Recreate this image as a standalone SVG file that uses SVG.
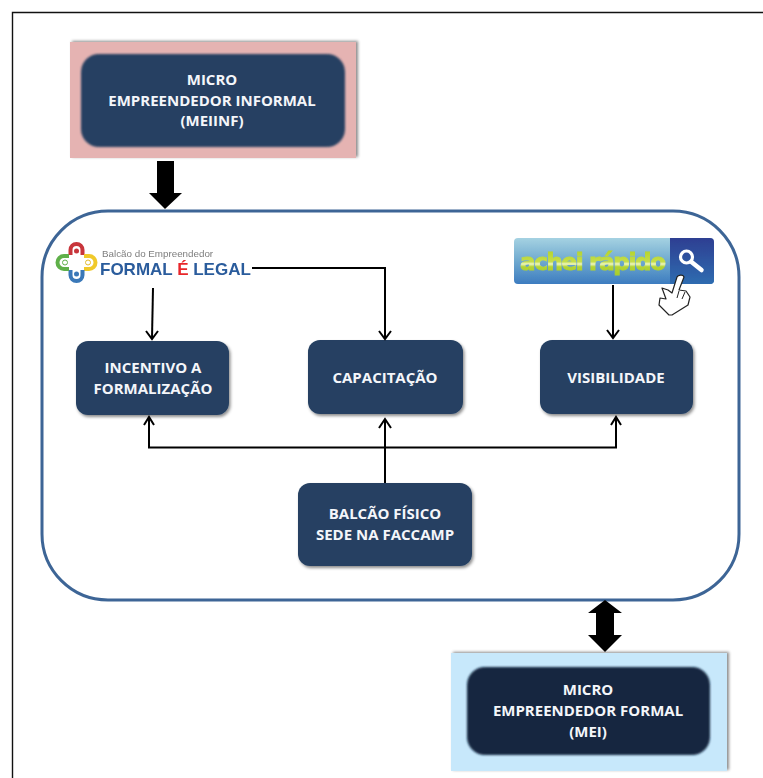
<svg xmlns="http://www.w3.org/2000/svg" width="763" height="778" viewBox="0 0 763 778">
<style>
.n{fill:#264162;filter:url(#ns)}
.t{font-family:"Open Sans","Liberation Sans",sans-serif;font-weight:700;font-size:15px;fill:#f4f6fa;text-anchor:middle}
.c{fill:none;stroke:#000;stroke-width:2}
.h{fill:none;stroke:#000;stroke-width:2}
</style>
<defs>
<filter id="ns" x="-10%" y="-10%" width="125%" height="130%"><feDropShadow dx="1.5" dy="2" stdDeviation="1.5" flood-color="#000" flood-opacity=".45"/></filter>
<filter id="bs" x="-5%" y="-5%" width="112%" height="112%"><feDropShadow dx="2" dy="-1" stdDeviation="1.5" flood-color="#000" flood-opacity=".45"/></filter>
<filter id="sf" x="-5%" y="-5%" width="110%" height="110%"><feGaussianBlur stdDeviation="1.2"/></filter>
<filter id="s1" x="-5%" y="-5%" width="110%" height="110%"><feGaussianBlur stdDeviation=".45"/></filter>
<linearGradient id="bar" x1="0" y1="0" x2="0" y2="1"><stop offset="0" stop-color="#a5d2e2"/><stop offset=".5" stop-color="#6fa9cf"/><stop offset="1" stop-color="#3c7cc0"/></linearGradient>
<linearGradient id="btn" x1="0" y1="0" x2="0" y2="1"><stop offset="0" stop-color="#2f3f92"/><stop offset="1" stop-color="#2d6cb0"/></linearGradient>
<linearGradient id="ach" gradientUnits="userSpaceOnUse" x1="0" y1="250" x2="0" y2="278"><stop offset="0" stop-color="#b4d32a"/><stop offset=".42" stop-color="#c6de4a"/><stop offset=".5" stop-color="#eef6c0"/><stop offset=".6" stop-color="#b4d432"/><stop offset="1" stop-color="#a4cb28"/></linearGradient>
</defs>
<rect width="763" height="778" fill="#fff"/>
<g id="frame"><path d="M12.5 778V12.5H763" fill="none" stroke="#111" stroke-width="1.4"/></g>
<g id="container"><rect x="42" y="211" width="697" height="389" rx="66" ry="66" fill="#fff" stroke="#3d6596" stroke-width="3"/></g>
<g id="informal">
<rect x="70" y="42" width="286" height="116" fill="#e5b3b2" filter="url(#bs)"/>
<rect x="81" y="54" width="264" height="93" rx="18" fill="#264162" filter="url(#sf)"/>
<text class="t" x="212" y="85">MICRO</text>
<text class="t" x="212" y="106">EMPREENDEDOR INFORMAL</text>
<text class="t" x="212" y="126">(MEIINF)</text>
</g>
<g id="formal">
<rect x="451" y="653" width="276" height="118" fill="#c7e8fb" filter="url(#bs)"/>
<rect x="467" y="667" width="243" height="88" rx="18" fill="#12263f" filter="url(#sf)"/>
<text class="t" x="588" y="695">MICRO</text>
<text class="t" x="588" y="716">EMPREENDEDOR FORMAL</text>
<text class="t" x="588" y="737">(MEI)</text>
</g>
<g id="incentivo"><rect class="n" x="76" y="341" width="153" height="74" rx="12"/>
<text class="t" x="153" y="373">INCENTIVO A</text><text class="t" x="153" y="394">FORMALIZAÇÃO</text></g>
<g id="capacitacao"><rect class="n" x="308" y="340" width="155" height="74" rx="12"/>
<text class="t" x="385" y="383">CAPACITAÇÃO</text></g>
<g id="visibilidade"><rect class="n" x="540" y="340" width="153" height="74" rx="12"/>
<text class="t" x="616" y="383">VISIBILIDADE</text></g>
<g id="balcao"><rect class="n" x="298" y="483" width="174" height="83" rx="12"/>
<text class="t" x="385" y="519">BALCÃO FÍSICO</text><text class="t" x="385" y="540">SEDE NA FACCAMP</text></g>
<g id="logo-formal" filter="url(#s1)">
<g fill="none" stroke-width="3.500">
<path d="M70.500 255v-5a6 6 0 0 1 12 0v5" stroke="#c8343a" stroke-width="4"/><circle cx="76.500" cy="251" r="2.500" fill="#c8343a" stroke="none"/>
<path d="M84 256h5a6.500 6.500 0 0 1 0 13h-5" stroke="#f0c92c" stroke-width="4"/><circle cx="88" cy="262.500" r="2.500" fill="none" stroke="#e2bb2a" stroke-width="1"/>
<path d="M70.500 270v5a6 6 0 0 0 12 0v-5" stroke="#3a78b8" stroke-width="4"/><circle cx="76.500" cy="274" r="2.500" fill="#3a78b8" stroke="none"/>
<path d="M69 256h-5a6.500 6.500 0 0 0 0 13h5" stroke="#5fb04a" stroke-width="4"/><circle cx="65" cy="262.500" r="2.500" fill="none" stroke="#5fb04a" stroke-width="1"/>
</g>
<text x="102" y="257" font-family="'Liberation Sans',Arial,sans-serif" font-size="9.800" fill="#7d7d7d">Balcão do Empreendedor</text>
<text x="100" y="275" font-family="'Liberation Sans',Arial,sans-serif" font-weight="700" font-size="17" fill="#2a5b9c">FORMAL <tspan fill="#e8262a">É</tspan> LEGAL</text>
</g>
<g id="logo-achei" filter="url(#s1)">
<rect x="514" y="238" width="200" height="46" rx="4" fill="url(#bar)"/>
<path d="M670 238h40a4 4 0 0 1 4 4v38a4 4 0 0 1-4 4h-40z" fill="url(#btn)"/>
<text x="520" y="270" font-family="'DejaVu Sans',Verdana,sans-serif" font-weight="700" font-size="23" textLength="146" lengthAdjust="spacing" fill="url(#ach)" stroke="url(#ach)" stroke-width=".9">achei rápido</text>
<circle cx="686.500" cy="257" r="6" fill="none" stroke="#fff" stroke-width="3.200"/>
<path d="M691.500 262l10 8" stroke="#fff" stroke-width="4.500" stroke-linecap="round"/>
<path d="M677 277c1-2 6-3 7 0l-5 13 7 1 4 6-2 8-16 10h-3l-10-10 1-7 6 1-4-11 6 2 4 3z" fill="#fff" stroke="#222" stroke-width="1.200" stroke-linejoin="round"/>
<path d="M679 291l-2 7M685 292l-3 7" fill="none" stroke="#222"/>
</g>
<g id="connectors">
<path class="c" d="M153 288L152 338"/><path class="h" d="M146 331l6 8 6-8"/>
<path class="c" d="M252 268H385V338"/><path class="h" d="M379 331l6 8 6-8"/>
<path class="c" d="M613 285L613 337"/><path class="h" d="M607 330l6 8 6-8"/>
<path class="c" d="M149 418V447.500H616V418"/><path class="h" d="M144 425l5-8 5 8M611 425l5-8 5 8"/>
<path class="c" d="M385 483V420"/><path class="h" d="M379 428l6-9 6 9"/>
<path d="M157 161h17v32h8l-17 16-16-16h8z" fill="#000"/>
<path d="M605 600l17 13h-8v22h8l-17 17-17-17h8v-22h-8z" fill="#000"/>
</g>
</svg>
